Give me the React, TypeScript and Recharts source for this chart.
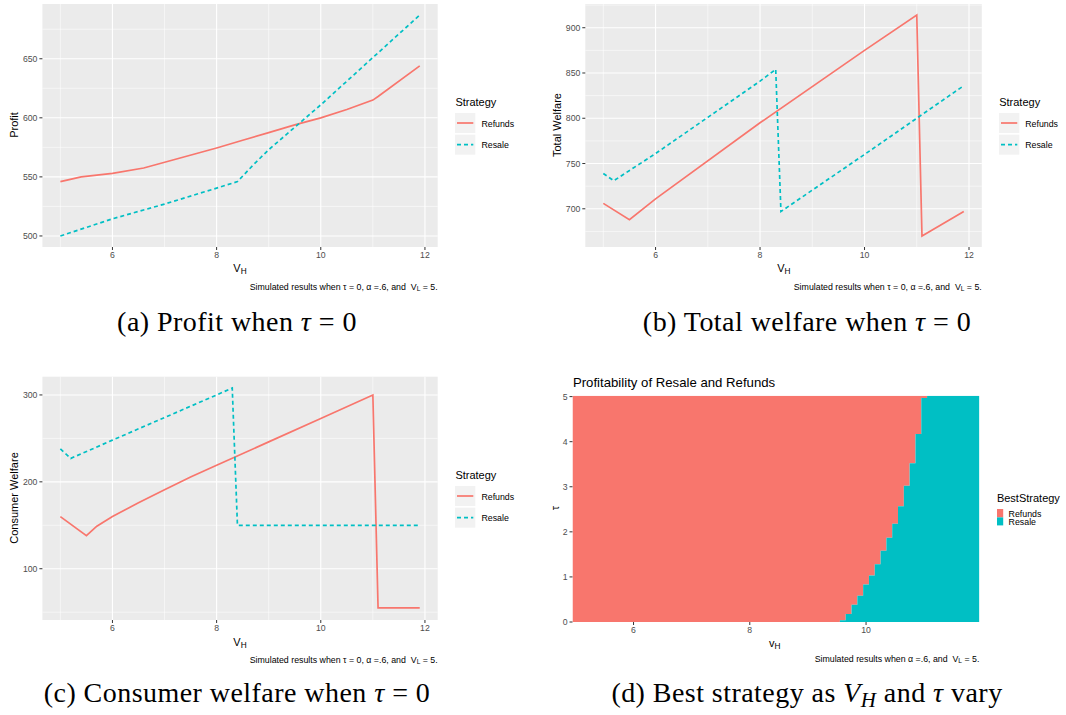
import React from "react";
import { LineChart, Line, XAxis, YAxis, CartesianGrid, AreaChart, Area } from "recharts";

const SANS = '"Liberation Sans", Arial, sans-serif';
const SERIF = '"Liberation Serif", "Times New Roman", serif';
const RED = "#F8766D";
const TEAL = "#00BFC4";

// (a) profit, tau = 0
const PROFIT_REFUNDS_VH = [5, 5.4, 6, 6.6, 7.3, 8, 8.5, 9, 9.5, 10, 10.5, 11, 11.1, 11.9];
const PROFIT_REFUNDS = [546, 550, 553, 557.5, 566, 574.5, 581, 587.5, 594, 600, 607, 615, 618, 644];
const PROFIT_RESALE_VH = [5, 6, 7, 8, 8.4, 8.7, 9, 10, 11, 11.9];
const PROFIT_RESALE = [500, 514.5, 527, 540.5, 546, 560, 573, 611, 651, 687];

// (b) total welfare, tau = 0
const TW_REFUNDS_VH = [5, 5.5, 6, 8, 10, 11, 11.1, 11.9];
const TW_REFUNDS = [706, 688, 711, 795, 875, 914, 670, 697];
const TW_RESALE_VH = [5, 5.2, 6, 7, 8, 8.3, 8.4, 10, 11, 11.9];
const TW_RESALE = [739, 731, 761, 801, 841, 854, 697, 760, 800, 836];

// (c) consumer welfare, tau = 0
const CW_REFUNDS_VH = [5, 5.5, 5.7, 6, 6.5, 7, 7.5, 8, 9, 10, 11, 11.1, 11.9];
const CW_REFUNDS = [160, 138, 149, 160, 176, 191, 205.5, 219, 246, 273, 300, 55, 55];
const CW_RESALE_VH = [5, 5.2, 6, 7, 8, 8.3, 8.4, 11.9];
const CW_RESALE = [238, 227, 248, 274, 300, 308, 150, 150];

// (d) best strategy: left edge of each tile column and the tau below which resale wins
const BEST_VH = [4.95, 9.55, 9.65, 9.75, 9.85, 9.95, 10.05, 10.15, 10.25, 10.35, 10.45, 10.55, 10.65, 10.75, 10.85, 10.95, 11.05, 11.95];
const BEST_RESALE_TAU = [0, 0.04, 0.18, 0.38, 0.58, 0.83, 1.03, 1.28, 1.58, 1.87, 2.18, 2.57, 3.02, 3.52, 4.17, 4.97, 5.02, 5.02];
const TAU_TOP = 5.02;

const VH_TICKS = [6, 8, 10, 12];
const VH_MINOR = [5, 7, 9, 11];

const pts = (xs: number[], ys: number[]) => xs.map((x, i) => ({ x, y: ys[i] }));

type TxtProps = { x: number; y: number; anchor?: "start" | "middle" | "end"; rotate?: boolean; size: number; font?: string; children: React.ReactNode };
function Txt({ x, y, anchor = "middle", rotate, size, font = SANS, children }: TxtProps) {
  const tx = anchor === "middle" ? "-50%" : anchor === "end" ? "-100%" : "0";
  return (
    <div
      style={{
        position: "absolute", left: x, top: y, whiteSpace: "pre", lineHeight: 1,
        fontFamily: font, fontSize: size, color: "#000",
        transform: `translate(${tx}, -50%)${rotate ? " rotate(-90deg)" : ""}`,
      }}
    >
      {children}
    </div>
  );
}

const Sub = ({ children }: { children: React.ReactNode }) => (
  <sub style={{ fontSize: "0.75em", verticalAlign: "-0.25em", lineHeight: 0 }}>{children}</sub>
);

function StrategyLegend({ x, y }: { x: number; y: number }) {
  return (
    <>
      <Txt x={x} y={y} anchor="start" size={11}>Strategy</Txt>
      <svg style={{ position: "absolute", left: x, top: y + 11 }} width={22} height={43}>
        <rect x={0} y={0} width={20.3} height={20} fill="#F2F2F2" />
        <rect x={0} y={21.7} width={20.3} height={20} fill="#F2F2F2" />
        <line x1={2} x2={18.3} y1={10} y2={10} stroke={RED} strokeWidth={1.7} />
        <line x1={2} x2={18.3} y1={31.7} y2={31.7} stroke={TEAL} strokeWidth={1.7} strokeDasharray="4 3" />
      </svg>
      <Txt x={x + 26} y={y + 21.7} anchor="start" size={8.8}>Refunds</Txt>
      <Txt x={x + 26} y={y + 42.7} anchor="start" size={8.8}>Resale</Txt>
    </>
  );
}

type PanelProps = {
  left: number; top: number; W: number; H: number;
  x0: number; x1: number; y0: number; y1: number;
  yDomain: [number, number]; yTicks: number[]; yMinor: number[];
  refunds: { x: number; y: number }[]; resale: { x: number; y: number }[];
};

function LinePanel(p: PanelProps) {
  const tick = { fill: "#4D4D4D", fontSize: 8.7, fontFamily: SANS };
  return (
    <div style={{ position: "absolute", left: p.left, top: p.top }}>
      <LineChart width={p.W} height={p.H} margin={{ top: p.y0, right: p.W - p.x1, left: 0, bottom: 0 }}>
        <CartesianGrid horizontalValues={p.yMinor} verticalValues={VH_MINOR} stroke="#FFFFFF" strokeWidth={0.55} fill="#EBEBEB" fillOpacity={1} />
        <CartesianGrid horizontalValues={p.yTicks} verticalValues={VH_TICKS} stroke="#FFFFFF" strokeWidth={1.1} />
        <XAxis dataKey="x" type="number" domain={[4.655, 12.245]} ticks={VH_TICKS} interval={0} allowDataOverflow
          height={p.H - p.y1} axisLine={false} tickSize={3} tickMargin={2} tick={tick} tickLine={{ stroke: "#333333" }} />
        <YAxis type="number" domain={p.yDomain} ticks={p.yTicks} interval={0} allowDataOverflow
          width={p.x0} axisLine={false} tickSize={3} tickMargin={2} tick={tick} tickLine={{ stroke: "#333333" }} />
        <Line data={p.refunds} dataKey="y" stroke={RED} strokeWidth={1.7} dot={false} activeDot={false} isAnimationActive={false} />
        <Line data={p.resale} dataKey="y" stroke={TEAL} strokeWidth={1.7} strokeDasharray="4 3" dot={false} activeDot={false} isAnimationActive={false} />
      </LineChart>
    </div>
  );
}

function BestPanel() {
  const rows = BEST_VH.map((vh, i) => ({
    vh,
    resale: [0, BEST_RESALE_TAU[i]],
    refunds: [BEST_RESALE_TAU[i], TAU_TOP],
  }));
  const tick = { fill: "#4D4D4D", fontSize: 8.7, fontFamily: SANS };
  const W = 460, H = 272, x0 = 32.5, x1 = 439.4, y0 = 25.7, y1 = 252;
  return (
    <div style={{ position: "absolute", left: 540, top: 370 }}>
      <AreaChart width={W} height={H} data={rows} margin={{ top: y0, right: W - x1, left: 0, bottom: 0 }}>
        <XAxis dataKey="vh" type="number" domain={[4.95, 11.95]} ticks={[6, 8, 10]} interval={0} allowDataOverflow
          height={H - y1} axisLine={false} tickSize={3} tickMargin={2} tick={tick} tickLine={{ stroke: "#333333" }} />
        <YAxis type="number" domain={[0, TAU_TOP]} ticks={[0, 1, 2, 3, 4, 5]} interval={0} allowDataOverflow
          width={x0} axisLine={false} tickSize={3} tickMargin={2} tick={tick} tickLine={{ stroke: "#333333" }} />
        <Area dataKey="refunds" type="stepAfter" fill={RED} fillOpacity={1} stroke="none" isAnimationActive={false} />
        <Area dataKey="resale" type="stepAfter" fill={TEAL} fillOpacity={1} stroke="none" isAnimationActive={false} />
      </AreaChart>
    </div>
  );
}

const caption = (withTau: boolean) => (
  <>Simulated results when {withTau ? "τ = 0, " : ""}α =.6, and  V<Sub>L</Sub> = 5.</>
);

const subCaption = (left: number, top: number): React.CSSProperties => ({
  position: "absolute", left, top, transform: "translateX(-50%)", whiteSpace: "nowrap",
  lineHeight: 1, fontFamily: SERIF, fontSize: 28, letterSpacing: 0.45,
});

export default function App() {
  return (
    <div style={{ position: "absolute", left: 0, top: 0, width: 1066, height: 715, background: "#fff", overflow: "hidden" }}>
      {/* (a) */}
      <LinePanel left={0} top={0} W={450} H={267} x0={42.4} x1={437.7} y0={4} y1={247}
        yDomain={[490.65, 696.35]} yTicks={[500, 550, 600, 650]} yMinor={[525, 575, 625, 675]}
        refunds={pts(PROFIT_REFUNDS_VH, PROFIT_REFUNDS)} resale={pts(PROFIT_RESALE_VH, PROFIT_RESALE)} />
      <Txt x={13.8} y={125} rotate size={11}>Profit</Txt>
      <Txt x={240} y={268.3} size={11}>V<Sub>H</Sub></Txt>
      <Txt x={437.7} y={286.7} anchor="end" size={8.8}>{caption(true)}</Txt>
      <StrategyLegend x={455.4} y={102.3} />

      {/* (b) */}
      <LinePanel left={540} top={0} W={460} H={267} x0={45.3} x1={441.8} y0={4} y1={247}
        yDomain={[657.8, 926.2]} yTicks={[700, 750, 800, 850, 900]} yMinor={[675, 725, 775, 825, 875, 925]}
        refunds={pts(TW_REFUNDS_VH, TW_REFUNDS)} resale={pts(TW_RESALE_VH, TW_RESALE)} />
      <Txt x={556.8} y={125} rotate size={11}>Total Welfare</Txt>
      <Txt x={783.9} y={268.3} size={11}>V<Sub>H</Sub></Txt>
      <Txt x={981.8} y={286.7} anchor="end" size={8.8}>{caption(true)}</Txt>
      <StrategyLegend x={999.2} y={102.3} />

      {/* (c) */}
      <LinePanel left={0} top={370} W={450} H={270} x0={42.4} x1={437.7} y0={6.7} y1={250}
        yDomain={[41, 321]} yTicks={[100, 200, 300]} yMinor={[50, 150, 250]}
        refunds={pts(CW_REFUNDS_VH, CW_REFUNDS)} resale={pts(CW_RESALE_VH, CW_RESALE)} />
      <Txt x={13.8} y={498.3} rotate size={11}>Consumer Welfare</Txt>
      <Txt x={240} y={641.7} size={11}>V<Sub>H</Sub></Txt>
      <Txt x={437.7} y={660} anchor="end" size={8.8}>{caption(true)}</Txt>
      <StrategyLegend x={455.4} y={475.3} />

      {/* (d) */}
      <BestPanel />
      <Txt x={572.9} y={383.3} anchor="start" size={13.2}>Profitability of Resale and Refunds</Txt>
      <Txt x={555} y={508.3} rotate size={11}>τ</Txt>
      <Txt x={774.8} y={643.3} size={11}>v<Sub>H</Sub></Txt>
      <Txt x={979.4} y={659.3} anchor="end" size={8.8}>{caption(false)}</Txt>
      <Txt x={996.9} y={498.3} anchor="start" size={11}>BestStrategy</Txt>
      <svg style={{ position: "absolute", left: 996.9, top: 509.3 }} width={7} height={17}>
        <rect x={0} y={0} width={6.2} height={8.4} fill={RED} />
        <rect x={0} y={8.4} width={6.2} height={8} fill={TEAL} />
      </svg>
      <Txt x={1008.6} y={513.5} anchor="start" size={8.8}>Refunds</Txt>
      <Txt x={1008.6} y={522} anchor="start" size={8.8}>Resale</Txt>

      {/* sub-figure captions */}
      <div style={subCaption(237, 308)}>(a) Profit when <i>τ</i> = 0</div>
      <div style={subCaption(807, 308)}>(b) Total welfare when <i>τ</i> = 0</div>
      <div style={subCaption(237, 679)}>(c) Consumer welfare when <i>τ</i> = 0</div>
      <div style={subCaption(807, 679)}>(d) Best strategy as <i>V<Sub>H</Sub></i> and <i>τ</i> vary</div>
    </div>
  );
}
